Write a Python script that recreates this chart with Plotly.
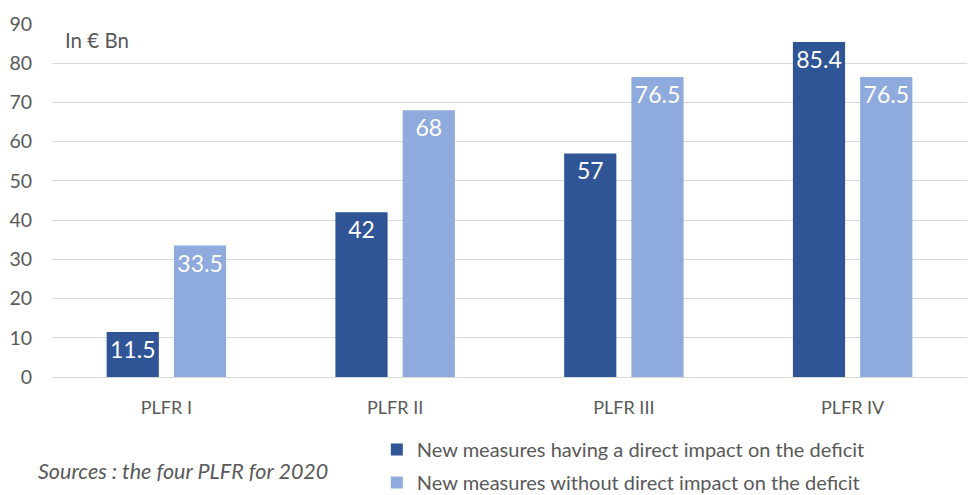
import plotly.graph_objects as go

categories = ["PLFR I", "PLFR II", "PLFR III", "PLFR IV"]
direct = [11.5, 42, 57, 85.4]
indirect = [33.5, 68, 76.5, 76.5]
series_names = ["New measures having a direct impact on the deficit",
                "New measures without direct impact on the deficit"]
y_ticks = [0, 10, 20, 30, 40, 50, 60, 70, 80, 90]

FONT = "Lato"
GRAY = "#595959"

fig = go.Figure()
fig.add_trace(go.Bar(x=categories, y=direct, name=series_names[0],
                     marker=dict(color="#2F5597", line=dict(width=0)),
                     text=[f"{v:g}" for v in direct], textposition="inside",
                     insidetextanchor="end", textangle=0,
                     textfont=dict(color="white", size=23, family=FONT),
                     legendgroup="a"))
fig.add_trace(go.Bar(x=categories, y=indirect, name=series_names[1],
                     marker=dict(color="#8FAADC", line=dict(width=0)),
                     text=[f"{v:g}" for v in indirect], textposition="inside",
                     insidetextanchor="end", textangle=0,
                     textfont=dict(color="white", size=23, family=FONT),
                     legendgroup="b"))

fig.update_layout(
    width=971, height=495,
    margin=dict(l=52, r=4, t=24, b=118),
    paper_bgcolor="white", plot_bgcolor="white",
    barmode="group", bargap=0.412, bargroupgap=0.224,
    font=dict(family=FONT, color=GRAY, size=16),
    uniformtext=dict(mode=False),
    legend=dict(orientation="v", x=0.355, xanchor="left",
                yref="container", y=(495 - 430) / 495, yanchor="top",
                font=dict(size=20, color=GRAY, family=FONT),
                tracegroupgap=4, itemwidth=30, bgcolor="rgba(0,0,0,0)"),
    xaxis=dict(showgrid=False, showline=False, ticks="",
               tickfont=dict(size=18, color=GRAY, family=FONT),
               ticklabelstandoff=18),
    yaxis=dict(range=[0, 90], tickvals=y_ticks, showgrid=True,
               gridcolor="#D9D9D9", gridwidth=1, zeroline=True,
               zerolinecolor="#D9D9D9", zerolinewidth=1, showline=False,
               tickfont=dict(size=19.5, color=GRAY, family=FONT),
               ticklabelstandoff=19),
    annotations=[
        dict(text="In € Bn", xref="paper", yref="paper", x=0.012, y=0.955,
             xanchor="left", yanchor="middle", showarrow=False,
             font=dict(size=20.5, color=GRAY, family=FONT)),
        dict(text="<i>Sources : the four PLFR for 2020</i>", xref="paper", yref="paper",
             x=-0.017, y=-0.265, xanchor="left", yanchor="middle", showarrow=False,
             font=dict(size=21.5, color=GRAY, family=FONT)),
    ],
)

fig.write_html("out.html")
